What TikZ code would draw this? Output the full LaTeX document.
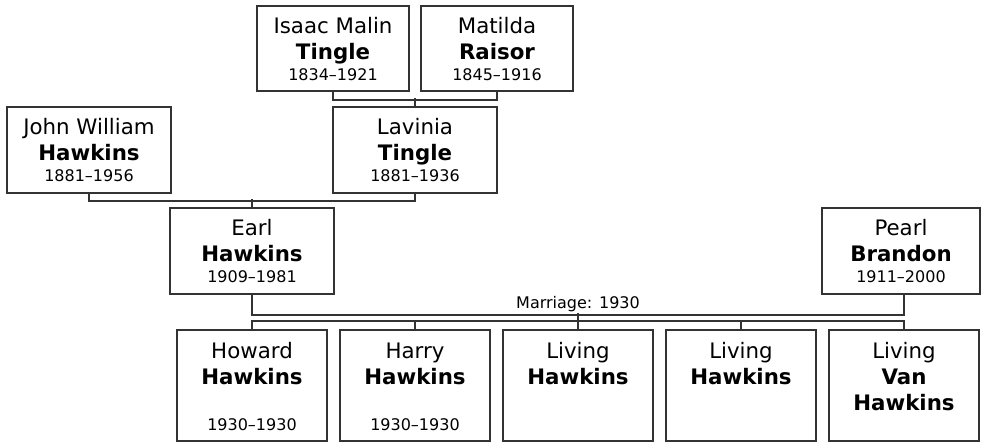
\documentclass[tikz,border=0pt]{standalone}
\usepackage{fontspec}
\setmainfont{DejaVu Sans}
\usetikzlibrary{calc}
\definecolor{lineclr}{HTML}{333333}
\tikzset{
  pbox/.style={draw=lineclr, line width=1.8pt, fill=white, inner sep=0pt, rectangle},
  conn/.style={draw=lineclr, line width=1.8pt},
  given/.style={anchor=base, inner sep=0pt, font=\fontsize{21.33}{24}\selectfont},
  surname/.style={anchor=base, inner sep=0pt, font=\fontsize{21.33}{24}\selectfont\bfseries},
  dates/.style={anchor=base, inner sep=0pt, font=\fontsize{16}{19}\selectfont},
}
% name, center x, center y, width, height
\newcommand\fambox[5]{\node[pbox, minimum width=#4pt, minimum height=#5pt] (#1) at (#2,#3) {};}
% adult: name, given, surname, dates
\newcommand\famadult[4]{%
  \node[given] (#1-g) at ($(#1.north)+(0,28.5)$) {#2};
  \node[surname] (#1-s) at ($(#1.north)+(0,54.5)$) {#3};
  \node[dates] (#1-d) at ($(#1.north)+(0,75)$) {#4};}
\begin{document}
\begin{tikzpicture}[x=1pt,y=-1pt]
\useasboundingbox (0,0) rectangle (988,445);
% boxes
\fambox{isaac}{333}{48.5}{152}{85}
\fambox{matilda}{497}{48.5}{152}{85}
\fambox{john}{89}{150}{164}{86}
\fambox{lavinia}{415}{150}{164}{86}
\fambox{earl}{252}{251}{164}{86}
\fambox{pearl}{901}{251}{158}{86}
\fambox{c1}{252}{385.5}{150}{111}
\fambox{c2}{415}{385.5}{150}{111}
\fambox{c3}{578}{385.5}{150}{111}
\fambox{c4}{741}{385.5}{150}{111}
\fambox{c5}{904}{385.5}{150}{111}
% texts
\famadult{isaac}{Isaac Malin}{Tingle}{1834–1921}
\famadult{matilda}{Matilda}{Raisor}{1845–1916}
\famadult{john}{John William}{Hawkins}{1881–1956}
\famadult{lavinia}{Lavinia}{Tingle}{1881–1936}
\famadult{earl}{Earl}{Hawkins}{1909–1981}
\famadult{pearl}{Pearl}{Brandon}{1911–2000}
\node[given] (c1-g) at ($(c1.north)+(0,29.5)$) {Howard};
\node[surname] (c1-s) at ($(c1.north)+(0,55.5)$) {Hawkins};
\node[dates] (c1-d) at ($(c1.north)+(0,101)$) {1930–1930};
\node[given] (c2-g) at ($(c2.north)+(0,29.5)$) {Harry};
\node[surname] (c2-s) at ($(c2.north)+(0,55.5)$) {Hawkins};
\node[dates] (c2-d) at ($(c2.north)+(0,101)$) {1930–1930};
\node[given] (c3-g) at ($(c3.north)+(0,29.5)$) {Living};
\node[surname] (c3-s) at ($(c3.north)+(0,55.5)$) {Hawkins};
\node[given] (c4-g) at ($(c4.north)+(0,29.5)$) {Living};
\node[surname] (c4-s) at ($(c4.north)+(0,55.5)$) {Hawkins};
\node[given] (c5-g) at ($(c5.north)+(0,29.5)$) {Living};
\node[surname] (c5-s) at ($(c5.north)+(0,55.5)$) {Van};
\node[surname] (c5-t) at ($(c5.north)+(0,81.5)$) {Hawkins};
% connectors
\draw[conn] (isaac.south) -- ++(0,8) -| (matilda.south);
\draw[conn] (lavinia.north) -- ++(0,-8);
\draw[conn] (john.south) -- ++(0,7) -| (lavinia.south);
\draw[conn] (earl.north) -- ++(0,-8);
\coordinate (pearldrop) at (pearl.south -| c5.north);
\draw[conn] (earl.south) -- ++(0,20) -| (pearldrop);
\draw[conn] (c1.north) -- ++(0,-8) -| (c5.north);
\draw[conn] (c2.north) -- ++(0,-8);
\draw[conn] (c4.north) -- ++(0,-8);
\draw[conn] (c3.north) -- ++(0,-16);
\node[dates] (marriage) at ($(c3.north)+(0,-20.5)$) {Marriage: 1930};
\end{tikzpicture}
\end{document}
